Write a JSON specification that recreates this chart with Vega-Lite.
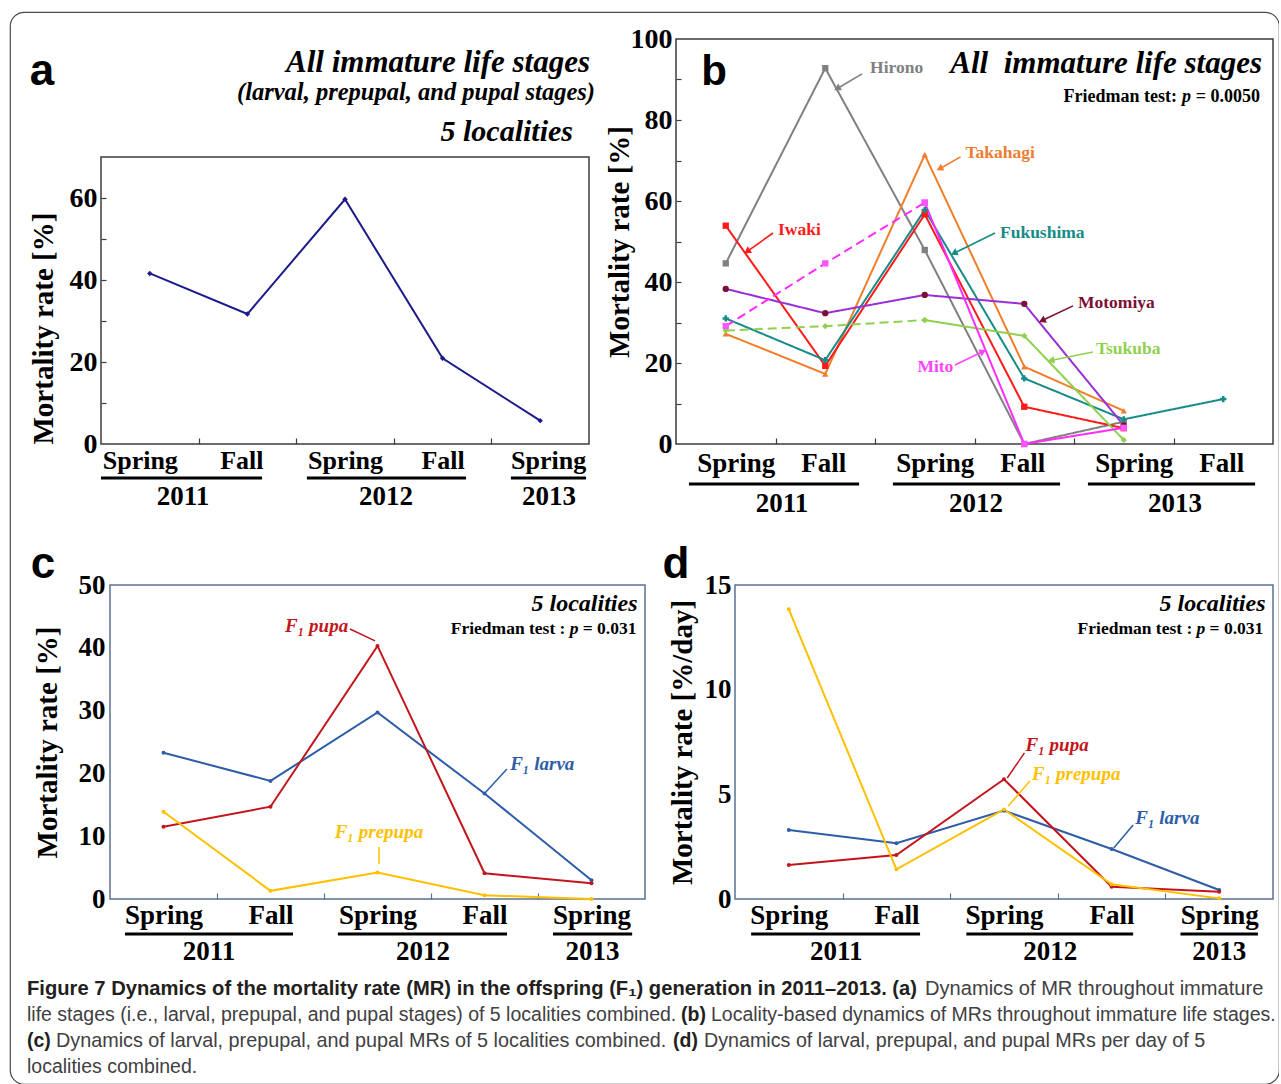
{
"$schema": "https://vega.github.io/schema/vega-lite/v6.json",
"background": "white",
"width": 1269,
"height": 1072,
"autosize": {"type": "none"},
"padding": {"left": 10, "top": 12, "right": 0, "bottom": 0},
"config": {
  "view": {"stroke": "#4a4a4a", "strokeWidth": 1.2, "cornerRadius": 14},
  "axis": {"grid": false, "domain": false, "labelFont": "Liberation Serif", "labelFontWeight": "bold", "labelColor": "#000000", "titleFont": "Liberation Serif", "titleFontWeight": "bold", "titleColor": "#000000", "tickColor": "#3d3d3d", "labelFlush": false, "labelOverlap": false},
  "text": {"font": "Liberation Serif", "fontWeight": "bold", "color": "#000000"}
},
"datasets": {
  "a": [
    {"period": "Spring 2011", "idx": 0, "mr": 41.6},
    {"period": "Fall 2011", "idx": 1, "mr": 31.7},
    {"period": "Spring 2012", "idx": 2, "mr": 59.7},
    {"period": "Fall 2012", "idx": 3, "mr": 20.9},
    {"period": "Spring 2013", "idx": 4, "mr": 5.7}
  ],
  "yearsA": [
    {"year": "2011", "from": -0.5, "to": 1.15, "at": 0.34},
    {"year": "2012", "from": 1.61, "to": 3.24, "at": 2.42},
    {"year": "2013", "from": 3.70, "to": 4.47, "at": 4.09}
  ],
  "b": [
    {"locality": "Hirono", "idx": 0, "mr": 44.6, "seg": "solid"},
    {"locality": "Hirono", "idx": 1, "mr": 92.8, "seg": "solid"},
    {"locality": "Hirono", "idx": 2, "mr": 47.9, "seg": "solid"},
    {"locality": "Hirono", "idx": 3, "mr": 0, "seg": "solid"},
    {"locality": "Hirono", "idx": 4, "mr": 5.5, "seg": "solid"},
    {"locality": "Takahagi", "idx": 0, "mr": 27.2, "seg": "solid"},
    {"locality": "Takahagi", "idx": 1, "mr": 17.3, "seg": "solid"},
    {"locality": "Takahagi", "idx": 2, "mr": 71.4, "seg": "solid"},
    {"locality": "Takahagi", "idx": 3, "mr": 19.1, "seg": "solid"},
    {"locality": "Takahagi", "idx": 4, "mr": 8.2, "seg": "solid"},
    {"locality": "Iwaki", "idx": 0, "mr": 53.9, "seg": "solid"},
    {"locality": "Iwaki", "idx": 1, "mr": 19.3, "seg": "solid"},
    {"locality": "Iwaki", "idx": 2, "mr": 56.7, "seg": "solid"},
    {"locality": "Iwaki", "idx": 3, "mr": 9.2, "seg": "solid"},
    {"locality": "Iwaki", "idx": 4, "mr": 3.9, "seg": "solid"},
    {"locality": "Fukushima", "idx": 0, "mr": 31.0, "seg": "solid"},
    {"locality": "Fukushima", "idx": 1, "mr": 20.7, "seg": "solid"},
    {"locality": "Fukushima", "idx": 2, "mr": 57.8, "seg": "solid"},
    {"locality": "Fukushima", "idx": 3, "mr": 16.2, "seg": "solid"},
    {"locality": "Fukushima", "idx": 4, "mr": 6.1, "seg": "solid"},
    {"locality": "Fukushima", "idx": 5, "mr": 11.1, "seg": "solid"},
    {"locality": "Motomiya", "idx": 0, "mr": 38.3, "seg": "solid"},
    {"locality": "Motomiya", "idx": 1, "mr": 32.3, "seg": "solid"},
    {"locality": "Motomiya", "idx": 2, "mr": 36.8, "seg": "solid"},
    {"locality": "Motomiya", "idx": 3, "mr": 34.6, "seg": "solid"},
    {"locality": "Motomiya", "idx": 4, "mr": 4.6, "seg": "solid"},
    {"locality": "Tsukuba", "idx": 0, "mr": 28.0, "seg": "dashed"},
    {"locality": "Tsukuba", "idx": 1, "mr": 29.1, "seg": "dashed"},
    {"locality": "Tsukuba", "idx": 2, "mr": 30.6, "seg": "dashed"},
    {"locality": "Tsukuba", "idx": 2, "mr": 30.6, "seg": "solid"},
    {"locality": "Tsukuba", "idx": 3, "mr": 26.7, "seg": "solid"},
    {"locality": "Tsukuba", "idx": 4, "mr": 1.0, "seg": "solid"},
    {"locality": "Mito", "idx": 0, "mr": 29.1, "seg": "dashed"},
    {"locality": "Mito", "idx": 1, "mr": 44.6, "seg": "dashed"},
    {"locality": "Mito", "idx": 2, "mr": 59.6, "seg": "dashed"},
    {"locality": "Mito", "idx": 2, "mr": 59.6, "seg": "solid"},
    {"locality": "Mito", "idx": 3, "mr": 0, "seg": "solid"},
    {"locality": "Mito", "idx": 4, "mr": 4.0, "seg": "solid"}
  ],
  "yearsB": [
    {"year": "2011", "from": -0.37, "to": 1.34, "at": 0.565},
    {"year": "2012", "from": 1.68, "to": 3.36, "at": 2.515},
    {"year": "2013", "from": 3.64, "to": 5.32, "at": 4.515}
  ],
  "notesB": [
    {"name": "Hirono", "lx": 1.45, "ly": 92.8, "tx": 1.37, "ty": 91.4, "hx": 1.13, "hy": 87.9},
    {"name": "Takahagi", "lx": 2.41, "ly": 71.9, "tx": 2.36, "ty": 70.9, "hx": 2.16, "hy": 68.1},
    {"name": "Iwaki", "lx": 0.525, "ly": 52.8, "tx": 0.475, "ty": 52.1, "hx": 0.224, "hy": 47.7},
    {"name": "Fukushima", "lx": 2.756, "ly": 52.1, "tx": 2.706, "ty": 52.1, "hx": 2.304, "hy": 47.2},
    {"name": "Motomiya", "lx": 3.54, "ly": 34.8, "tx": 3.49, "ty": 34.1, "hx": 3.19, "hy": 30.6},
    {"name": "Tsukuba", "lx": 3.72, "ly": 23.5, "tx": 3.69, "ty": 22.7, "hx": 3.28, "hy": 20.7},
    {"name": "Mito", "lx": 1.926, "ly": 19.0, "tx": 2.304, "ty": 19.5, "hx": 2.575, "hy": 22.7}
  ],
  "c": [
    {"stage": "F₁ larva", "idx": 0, "mr": 23.3},
    {"stage": "F₁ larva", "idx": 1, "mr": 18.8},
    {"stage": "F₁ larva", "idx": 2, "mr": 29.7},
    {"stage": "F₁ larva", "idx": 3, "mr": 16.8},
    {"stage": "F₁ larva", "idx": 4, "mr": 3.0},
    {"stage": "F₁ pupa", "idx": 0, "mr": 11.5},
    {"stage": "F₁ pupa", "idx": 1, "mr": 14.7},
    {"stage": "F₁ pupa", "idx": 2, "mr": 40.3},
    {"stage": "F₁ pupa", "idx": 3, "mr": 4.1},
    {"stage": "F₁ pupa", "idx": 4, "mr": 2.5},
    {"stage": "F₁ prepupa", "idx": 0, "mr": 13.9},
    {"stage": "F₁ prepupa", "idx": 1, "mr": 1.3},
    {"stage": "F₁ prepupa", "idx": 2, "mr": 4.2},
    {"stage": "F₁ prepupa", "idx": 3, "mr": 0.6},
    {"stage": "F₁ prepupa", "idx": 4, "mr": 0.0}
  ],
  "yearsC": [
    {"year": "2011", "from": -0.36, "to": 1.21, "at": 0.425},
    {"year": "2012", "from": 1.63, "to": 3.21, "at": 2.425},
    {"year": "2013", "from": 3.64, "to": 4.38, "at": 4.01}
  ],
  "notesC": [
    {"stage": "F₁ pupa", "lx": 1.136, "ly": 43.5, "tx": 1.743, "ty": 43.0, "hx": 1.977, "hy": 41.1},
    {"stage": "F₁ larva", "lx": 3.24, "ly": 21.5, "tx": 3.21, "ty": 20.7, "hx": 3.01, "hy": 17.0},
    {"stage": "F₁ prepupa", "lx": 1.60, "ly": 10.7, "tx": 2.014, "ty": 8.3, "hx": 2.014, "hy": 5.6}
  ],
  "d": [
    {"stage": "F₁ larva", "idx": 0, "mr": 3.30},
    {"stage": "F₁ larva", "idx": 1, "mr": 2.66},
    {"stage": "F₁ larva", "idx": 2, "mr": 4.22},
    {"stage": "F₁ larva", "idx": 3, "mr": 2.39},
    {"stage": "F₁ larva", "idx": 4, "mr": 0.43},
    {"stage": "F₁ pupa", "idx": 0, "mr": 1.62},
    {"stage": "F₁ pupa", "idx": 1, "mr": 2.10},
    {"stage": "F₁ pupa", "idx": 2, "mr": 5.72},
    {"stage": "F₁ pupa", "idx": 3, "mr": 0.59},
    {"stage": "F₁ pupa", "idx": 4, "mr": 0.35},
    {"stage": "F₁ prepupa", "idx": 0, "mr": 13.84},
    {"stage": "F₁ prepupa", "idx": 1, "mr": 1.42},
    {"stage": "F₁ prepupa", "idx": 2, "mr": 4.28},
    {"stage": "F₁ prepupa", "idx": 3, "mr": 0.70},
    {"stage": "F₁ prepupa", "idx": 4, "mr": 0.03}
  ],
  "yearsD": [
    {"year": "2011", "from": -0.35, "to": 1.22, "at": 0.44},
    {"year": "2012", "from": 1.65, "to": 3.20, "at": 2.43},
    {"year": "2013", "from": 3.64, "to": 4.36, "at": 4.0}
  ],
  "notesD": [
    {"stage": "F₁ pupa", "lx": 2.20, "ly": 7.36, "tx": 2.19, "ty": 6.98, "hx": 2.03, "hy": 5.78},
    {"stage": "F₁ prepupa", "lx": 2.26, "ly": 5.97, "tx": 2.24, "ty": 5.64, "hx": 2.04, "hy": 4.44},
    {"stage": "F₁ larva", "lx": 3.22, "ly": 3.87, "tx": 3.20, "ty": 3.54, "hx": 3.02, "hy": 2.44}
  ],
  "caption": [
    {"line": 1, "piece": "b0", "text": "Figure 7 Dynamics of the mortality rate (MR) in the offspring (F₁) generation in 2011–2013. (a)"},
    {"line": 1, "piece": "r1", "text": "Dynamics of MR throughout immature"},
    {"line": 2, "piece": "r0", "text": "life stages (i.e., larval, prepupal, and pupal stages) of 5 localities combined."},
    {"line": 2, "piece": "b2", "text": "(b)"},
    {"line": 2, "piece": "r2", "text": "Locality-based dynamics of MRs throughout immature life stages."},
    {"line": 3, "piece": "b3c", "text": "(c)"},
    {"line": 3, "piece": "r3", "text": "Dynamics of larval, prepupal, and pupal MRs of 5 localities combined."},
    {"line": 3, "piece": "b3", "text": "(d)"},
    {"line": 3, "piece": "r4", "text": "Dynamics of larval, prepupal, and pupal MRs per day of 5"},
    {"line": 4, "piece": "r0", "text": "localities combined."}
  ]
},
"resolve": {
  "scale": {"x": "independent", "y": "independent", "color": "independent", "stroke": "independent", "fill": "independent", "shape": "independent", "strokeDash": "independent", "angle": "independent"},
  "axis": {"x": "independent", "y": "independent"}
},
"layer": [
 {
  "resolve": {"axis": {"x": "independent", "y": "independent"}},
  "layer": [
   {"data": {"values": [{}]}, "mark": {"type": "rect", "filled": false, "color": "#3d3d3d", "strokeWidth": 1.5},
    "encoding": {
     "x": {"datum": -0.5, "type": "quantitative", "scale": {"domain": [-0.5, 4.5], "range": [91, 579], "nice": false, "zero": false}, "axis": null},
     "x2": {"datum": 4.5},
     "y": {"datum": 0, "type": "quantitative", "scale": {"domain": [0, 70], "range": [432, 145], "nice": false, "zero": false}, "axis": {"orient": "left", "offset": -91, "values": [0, 20, 40, 60], "ticks": false, "labelFontSize": 28, "labelPadding": 4, "title": "Mortality rate [%]", "titleFontSize": 29, "titleAnchor": "start", "titlePadding": 11}},
     "y2": {"datum": 70}
    }},
   {"data": {"name": "a"}, "mark": {"type": "line", "color": "#1B1B8A", "strokeWidth": 2},
    "encoding": {
     "x": {"field": "idx", "type": "quantitative", "scale": {"domain": [-0.5, 4.5], "range": [91, 579], "nice": false, "zero": false}, "axis": {"orient": "bottom", "offset": -640, "values": [0.5, 1.5, 2.5, 3.5], "labels": false, "tickSize": -6, "tickWidth": 1.2, "title": null}},
     "y": {"field": "mr", "type": "quantitative", "scale": {"domain": [0, 70], "range": [432, 145], "nice": false, "zero": false}, "axis": {"orient": "left", "offset": -91, "values": [10, 20, 30, 40, 50, 60], "labels": false, "tickSize": -5, "tickWidth": 1.2, "title": null}}
    }},
   {"data": {"name": "a"}, "mark": {"type": "point", "shape": "diamond", "filled": true, "opacity": 1, "size": 30, "color": "#1B1B8A"},
    "encoding": {
     "x": {"field": "idx", "type": "quantitative", "scale": {"domain": [-0.5, 4.5], "range": [91, 579], "nice": false, "zero": false}, "axis": null},
     "y": {"field": "mr", "type": "quantitative", "scale": {"domain": [0, 70], "range": [432, 145], "nice": false, "zero": false}, "axis": null}
    }},
   {"data": {"name": "yearsA"}, "mark": {"type": "rule", "strokeWidth": 3, "color": "#000000", "yOffset": 34},
    "encoding": {
     "x": {"field": "from", "type": "quantitative", "scale": {"domain": [-0.5, 4.5], "range": [91, 579], "nice": false, "zero": false}, "axis": {"orient": "bottom", "offset": -640, "values": [0, 1, 2, 3, 4], "labelExpr": "datum.value === 1 || datum.value === 3 ? 'Fall' : 'Spring'", "ticks": false, "labelFontSize": 26, "labelPadding": 3, "labelOffset": {"condition": [{"test": "datum.value === 0", "value": -10}, {"test": "datum.value === 1", "value": -6}, {"test": "datum.value === 4", "value": 8}], "value": 0}, "title": null}},
     "x2": {"field": "to"},
     "y": {"datum": 0, "type": "quantitative", "scale": {"domain": [0, 70], "range": [432, 145], "nice": false, "zero": false}, "axis": null}
    }},
   {"data": {"name": "yearsA"}, "mark": {"type": "text", "fontSize": 27, "fontWeight": "bold", "dy": 61, "baseline": "alphabetic"},
    "encoding": {
     "x": {"field": "at", "type": "quantitative", "scale": {"domain": [-0.5, 4.5], "range": [91, 579], "nice": false, "zero": false}, "axis": null},
     "y": {"datum": 0, "type": "quantitative", "scale": {"domain": [0, 70], "range": [432, 145], "nice": false, "zero": false}, "axis": null},
     "text": {"field": "year"}
    }},
   {"data": {"values": [{"t": "All immature life stages"}]}, "mark": {"type": "text", "fontSize": 31, "fontWeight": "bold", "fontStyle": "italic", "align": "right", "baseline": "alphabetic", "dx": 1},
    "encoding": {
     "x": {"datum": 4.5, "type": "quantitative", "scale": {"domain": [-0.5, 4.5], "range": [91, 579], "nice": false, "zero": false}, "axis": null},
     "y": {"datum": 90.7, "type": "quantitative", "scale": {"domain": [0, 70], "range": [432, 145], "nice": false, "zero": false}, "axis": null},
     "text": {"field": "t"}
    }},
   {"data": {"values": [{"t": "(larval, prepupal, and pupal stages)"}]}, "mark": {"type": "text", "fontSize": 24.5, "fontWeight": "bold", "fontStyle": "italic", "align": "right", "baseline": "alphabetic", "dx": 6},
    "encoding": {
     "x": {"datum": 4.5, "type": "quantitative", "scale": {"domain": [-0.5, 4.5], "range": [91, 579], "nice": false, "zero": false}, "axis": null},
     "y": {"datum": 83.9, "type": "quantitative", "scale": {"domain": [0, 70], "range": [432, 145], "nice": false, "zero": false}, "axis": null},
     "text": {"field": "t"}
    }},
   {"data": {"values": [{"t": "5 localities"}]}, "mark": {"type": "text", "fontSize": 30, "fontWeight": "bold", "fontStyle": "italic", "align": "right", "baseline": "alphabetic", "dx": -16},
    "encoding": {
     "x": {"datum": 4.5, "type": "quantitative", "scale": {"domain": [-0.5, 4.5], "range": [91, 579], "nice": false, "zero": false}, "axis": null},
     "y": {"datum": 73.9, "type": "quantitative", "scale": {"domain": [0, 70], "range": [432, 145], "nice": false, "zero": false}, "axis": null},
     "text": {"field": "t"}
    }},
   {"data": {"values": [{"t": "a"}]}, "mark": {"type": "text", "font": "Liberation Sans", "fontSize": 44, "fontWeight": "bold", "align": "center", "baseline": "alphabetic", "dx": -59},
    "encoding": {
     "x": {"datum": -0.5, "type": "quantitative", "scale": {"domain": [-0.5, 4.5], "range": [91, 579], "nice": false, "zero": false}, "axis": null},
     "y": {"datum": 87.6, "type": "quantitative", "scale": {"domain": [0, 70], "range": [432, 145], "nice": false, "zero": false}, "axis": null},
     "text": {"field": "t"}
    }}
  ]
 },
 {
  "resolve": {"axis": {"x": "independent", "y": "independent"}},
  "layer": [
   {"data": {"values": [{}]}, "mark": {"type": "rect", "filled": false, "color": "#3d3d3d", "strokeWidth": 1.5},
    "encoding": {
     "x": {"datum": -0.5, "type": "quantitative", "scale": {"domain": [-0.5, 5.5], "range": [666, 1263], "nice": false, "zero": false}, "axis": null},
     "x2": {"datum": 5.5},
     "y": {"datum": 0, "type": "quantitative", "scale": {"domain": [0, 100], "range": [432, 27], "nice": false, "zero": false}, "axis": {"orient": "left", "offset": -666, "values": [0, 20, 40, 60, 80, 100], "ticks": false, "labelFontSize": 28, "labelPadding": 4, "title": "Mortality rate [%]", "titleFontSize": 29, "titlePadding": -4}},
     "y2": {"datum": 100}
    }},
   {"data": {"name": "b"}, "mark": {"type": "line", "strokeWidth": 2},
    "encoding": {
     "x": {"field": "idx", "type": "quantitative", "scale": {"domain": [-0.5, 5.5], "range": [666, 1263], "nice": false, "zero": false}, "axis": {"orient": "bottom", "offset": -640, "values": [0.5, 1.5, 2.5, 3.5, 4.5], "labels": false, "tickSize": -6, "tickWidth": 1.2, "title": null}},
     "y": {"field": "mr", "type": "quantitative", "scale": {"domain": [0, 100], "range": [432, 27], "nice": false, "zero": false}, "axis": {"orient": "left", "offset": -666, "values": [10, 20, 30, 40, 50, 60, 70, 80, 90], "labels": false, "tickSize": -5, "tickWidth": 1.2, "title": null}},
     "stroke": {"field": "locality", "type": "nominal", "scale": {"domain": ["Hirono", "Takahagi", "Iwaki", "Fukushima", "Motomiya", "Tsukuba", "Mito"], "range": ["#808080", "#F07F2C", "#FF1A1A", "#168B88", "#9A2FD6", "#8FD14F", "#FF2BFF"]}, "legend": null},
     "strokeDash": {"field": "seg", "type": "nominal", "scale": {"domain": ["solid", "dashed"], "range": [[1, 0], [9, 5]]}, "legend": null}
    }},
   {"data": {"name": "b"}, "mark": {"type": "point", "filled": true, "opacity": 1, "size": 40},
    "encoding": {
     "x": {"field": "idx", "type": "quantitative", "scale": {"domain": [-0.5, 5.5], "range": [666, 1263], "nice": false, "zero": false}, "axis": null},
     "y": {"field": "mr", "type": "quantitative", "scale": {"domain": [0, 100], "range": [432, 27], "nice": false, "zero": false}, "axis": null},
     "fill": {"field": "locality", "type": "nominal", "scale": {"domain": ["Hirono", "Takahagi", "Iwaki", "Fukushima", "Motomiya", "Tsukuba", "Mito"], "range": ["#808080", "#F07F2C", "#FF1A1A", "#168B88", "#7A1036", "#8FD14F", "#FF55FF"]}, "legend": null},
     "shape": {"field": "locality", "type": "nominal", "scale": {"domain": ["Hirono", "Takahagi", "Iwaki", "Fukushima", "Motomiya", "Tsukuba", "Mito"], "range": ["square", "triangle-up", "square", "cross", "circle", "diamond", "square"]}, "legend": null}
    }},
   {"data": {"name": "notesB"}, "mark": {"type": "rule", "strokeWidth": 1.6},
    "encoding": {
     "x": {"field": "tx", "type": "quantitative", "scale": {"domain": [-0.5, 5.5], "range": [666, 1263], "nice": false, "zero": false}, "axis": null},
     "y": {"field": "ty", "type": "quantitative", "scale": {"domain": [0, 100], "range": [432, 27], "nice": false, "zero": false}, "axis": null},
     "x2": {"field": "hx"},
     "y2": {"field": "hy"},
     "color": {"field": "name", "type": "nominal", "scale": {"domain": ["Hirono", "Takahagi", "Iwaki", "Fukushima", "Motomiya", "Tsukuba", "Mito"], "range": ["#808080", "#ED7D31", "#FF1A1A", "#168B88", "#7A1036", "#8FD14F", "#FF44FF"]}, "legend": null}
    }},
   {"data": {"name": "notesB"}, "mark": {"type": "point", "shape": "triangle", "filled": true, "opacity": 1, "size": 60},
    "encoding": {
     "x": {"field": "hx", "type": "quantitative", "scale": {"domain": [-0.5, 5.5], "range": [666, 1263], "nice": false, "zero": false}, "axis": null},
     "y": {"field": "hy", "type": "quantitative", "scale": {"domain": [0, 100], "range": [432, 27], "nice": false, "zero": false}, "axis": null},
     "color": {"field": "name", "type": "nominal", "scale": {"domain": ["Hirono", "Takahagi", "Iwaki", "Fukushima", "Motomiya", "Tsukuba", "Mito"], "range": ["#808080", "#ED7D31", "#FF1A1A", "#168B88", "#7A1036", "#8FD14F", "#FF44FF"]}, "legend": null},
     "angle": {"field": "name", "type": "nominal", "scale": {"type": "ordinal", "domain": ["Hirono", "Takahagi", "Iwaki", "Fukushima", "Motomiya", "Tsukuba", "Mito"], "range": [240, 241, 234, 243, 245, 259, 64]}, "legend": null}
    }},
   {"data": {"name": "notesB"}, "mark": {"type": "text", "fontSize": 17.5, "fontWeight": "bold", "align": "left", "baseline": "middle"},
    "encoding": {
     "x": {"field": "lx", "type": "quantitative", "scale": {"domain": [-0.5, 5.5], "range": [666, 1263], "nice": false, "zero": false}, "axis": null},
     "y": {"field": "ly", "type": "quantitative", "scale": {"domain": [0, 100], "range": [432, 27], "nice": false, "zero": false}, "axis": null},
     "text": {"field": "name"},
     "color": {"field": "name", "type": "nominal", "scale": {"domain": ["Hirono", "Takahagi", "Iwaki", "Fukushima", "Motomiya", "Tsukuba", "Mito"], "range": ["#808080", "#ED7D31", "#FF1A1A", "#168B88", "#7A1036", "#8FD14F", "#FF44FF"]}, "legend": null}
    }},
   {"data": {"name": "yearsB"}, "mark": {"type": "rule", "strokeWidth": 3, "color": "#000000", "yOffset": 40},
    "encoding": {
     "x": {"field": "from", "type": "quantitative", "scale": {"domain": [-0.5, 5.5], "range": [666, 1263], "nice": false, "zero": false}, "axis": {"orient": "bottom", "offset": -640, "values": [0, 1, 2, 3, 4, 5], "labelExpr": "datum.value === 1 || datum.value === 3 || datum.value === 5 ? 'Fall' : 'Spring'", "ticks": false, "labelFontSize": 27, "labelPadding": 6, "labelOffset": {"condition": {"test": "datum.value === 1 || datum.value === 3 || datum.value === 5", "value": -2}, "value": 10}, "title": null}},
     "x2": {"field": "to"},
     "y": {"datum": 0, "type": "quantitative", "scale": {"domain": [0, 100], "range": [432, 27], "nice": false, "zero": false}, "axis": null}
    }},
   {"data": {"name": "yearsB"}, "mark": {"type": "text", "fontSize": 27, "fontWeight": "bold", "dy": 68, "baseline": "alphabetic"},
    "encoding": {
     "x": {"field": "at", "type": "quantitative", "scale": {"domain": [-0.5, 5.5], "range": [666, 1263], "nice": false, "zero": false}, "axis": null},
     "y": {"datum": 0, "type": "quantitative", "scale": {"domain": [0, 100], "range": [432, 27], "nice": false, "zero": false}, "axis": null},
     "text": {"field": "year"}
    }},
   {"data": {"values": [{"t": "b"}]}, "mark": {"type": "text", "font": "Liberation Sans", "fontSize": 42, "fontWeight": "bold", "align": "center", "baseline": "alphabetic"},
    "encoding": {
     "x": {"datum": -0.118, "type": "quantitative", "scale": {"domain": [-0.5, 5.5], "range": [666, 1263], "nice": false, "zero": false}, "axis": null},
     "y": {"datum": 88.6, "type": "quantitative", "scale": {"domain": [0, 100], "range": [432, 27], "nice": false, "zero": false}, "axis": null},
     "text": {"field": "t"}
    }},
   {"data": {"values": [{"t": "All\u00a0 immature life stages"}]}, "mark": {"type": "text", "fontSize": 31, "fontWeight": "bold", "fontStyle": "italic", "align": "right", "baseline": "alphabetic"},
    "encoding": {
     "x": {"datum": 5.39, "type": "quantitative", "scale": {"domain": [-0.5, 5.5], "range": [666, 1263], "nice": false, "zero": false}, "axis": null},
     "y": {"datum": 91.6, "type": "quantitative", "scale": {"domain": [0, 100], "range": [432, 27], "nice": false, "zero": false}, "axis": null},
     "text": {"field": "t"}
    }},
   {"data": {"values": [{"t": "= 0.0050"}]}, "mark": {"type": "text", "fontSize": 18, "fontWeight": "bold", "align": "right", "baseline": "alphabetic"},
    "encoding": {
     "x": {"datum": 5.37, "type": "quantitative", "scale": {"domain": [-0.5, 5.5], "range": [666, 1263], "nice": false, "zero": false}, "axis": null},
     "y": {"datum": 84.4, "type": "quantitative", "scale": {"domain": [0, 100], "range": [432, 27], "nice": false, "zero": false}, "axis": null},
     "text": {"field": "t"}
    }},
   {"data": {"values": [{"t": "p"}]}, "mark": {"type": "text", "fontSize": 18, "fontWeight": "bold", "fontStyle": "italic", "align": "right", "baseline": "alphabetic", "dx": -69},
    "encoding": {
     "x": {"datum": 5.37, "type": "quantitative", "scale": {"domain": [-0.5, 5.5], "range": [666, 1263], "nice": false, "zero": false}, "axis": null},
     "y": {"datum": 84.4, "type": "quantitative", "scale": {"domain": [0, 100], "range": [432, 27], "nice": false, "zero": false}, "axis": null},
     "text": {"field": "t"}
    }},
   {"data": {"values": [{"t": "Friedman test:"}]}, "mark": {"type": "text", "fontSize": 18, "fontWeight": "bold", "align": "right", "baseline": "alphabetic", "dx": -83},
    "encoding": {
     "x": {"datum": 5.37, "type": "quantitative", "scale": {"domain": [-0.5, 5.5], "range": [666, 1263], "nice": false, "zero": false}, "axis": null},
     "y": {"datum": 84.4, "type": "quantitative", "scale": {"domain": [0, 100], "range": [432, 27], "nice": false, "zero": false}, "axis": null},
     "text": {"field": "t"}
    }}
  ]
 },
 {
  "resolve": {"axis": {"x": "independent", "y": "independent"}},
  "layer": [
   {"data": {"values": [{}]}, "mark": {"type": "rect", "filled": false, "color": "#5A7090", "strokeWidth": 1.5},
    "encoding": {
     "x": {"datum": -0.5, "type": "quantitative", "scale": {"domain": [-0.5, 4.5], "range": [100, 635], "nice": false, "zero": false}, "axis": null},
     "x2": {"datum": 4.5},
     "y": {"datum": 0, "type": "quantitative", "scale": {"domain": [0, 50], "range": [887, 573], "nice": false, "zero": false}, "axis": {"orient": "left", "offset": -100, "values": [0, 10, 20, 30, 40, 50], "ticks": false, "labelFontSize": 27, "labelPadding": 5, "title": "Mortality rate [%]", "titleFontSize": 29, "titlePadding": 16}},
     "y2": {"datum": 50}
    }},
   {"data": {"name": "c"}, "mark": {"type": "line", "strokeWidth": 2},
    "encoding": {
     "x": {"field": "idx", "type": "quantitative", "scale": {"domain": [-0.5, 4.5], "range": [100, 635], "nice": false, "zero": false}, "axis": {"orient": "bottom", "offset": -185, "values": [0.5, 1.5, 2.5, 3.5], "labels": false, "tickSize": -6, "tickWidth": 1.2, "tickColor": "#5A7090", "title": null}},
     "y": {"field": "mr", "type": "quantitative", "scale": {"domain": [0, 50], "range": [887, 573], "nice": false, "zero": false}, "axis": null},
     "color": {"field": "stage", "type": "nominal", "scale": {"domain": ["F₁ larva", "F₁ pupa", "F₁ prepupa"], "range": ["#2D5DA8", "#C3161C", "#FFC000"]}, "legend": null}
    }},
   {"data": {"name": "c"}, "mark": {"type": "circle", "size": 16, "opacity": 1},
    "encoding": {
     "x": {"field": "idx", "type": "quantitative", "scale": {"domain": [-0.5, 4.5], "range": [100, 635], "nice": false, "zero": false}, "axis": null},
     "y": {"field": "mr", "type": "quantitative", "scale": {"domain": [0, 50], "range": [887, 573], "nice": false, "zero": false}, "axis": null},
     "color": {"field": "stage", "type": "nominal", "scale": {"domain": ["F₁ larva", "F₁ pupa", "F₁ prepupa"], "range": ["#2D5DA8", "#C3161C", "#FFC000"]}, "legend": null}
    }},
   {"data": {"name": "notesC"}, "mark": {"type": "rule", "strokeWidth": 1.5},
    "encoding": {
     "x": {"field": "tx", "type": "quantitative", "scale": {"domain": [-0.5, 4.5], "range": [100, 635], "nice": false, "zero": false}, "axis": null},
     "y": {"field": "ty", "type": "quantitative", "scale": {"domain": [0, 50], "range": [887, 573], "nice": false, "zero": false}, "axis": null},
     "x2": {"field": "hx"},
     "y2": {"field": "hy"},
     "color": {"field": "stage", "type": "nominal", "scale": {"domain": ["F₁ larva", "F₁ pupa", "F₁ prepupa"], "range": ["#2D5DA8", "#C3161C", "#FFC000"]}, "legend": null}
    }},
   {"data": {"name": "notesC"}, "mark": {"type": "text", "fontSize": 19, "fontWeight": "bold", "fontStyle": "italic", "align": "left", "baseline": "middle"},
    "encoding": {
     "x": {"field": "lx", "type": "quantitative", "scale": {"domain": [-0.5, 4.5], "range": [100, 635], "nice": false, "zero": false}, "axis": null},
     "y": {"field": "ly", "type": "quantitative", "scale": {"domain": [0, 50], "range": [887, 573], "nice": false, "zero": false}, "axis": null},
     "text": {"field": "stage"},
     "color": {"field": "stage", "type": "nominal", "scale": {"domain": ["F₁ larva", "F₁ pupa", "F₁ prepupa"], "range": ["#2D5DA8", "#C3161C", "#FFC000"]}, "legend": null}
    }},
   {"data": {"name": "yearsC"}, "mark": {"type": "rule", "strokeWidth": 3, "color": "#000000", "yOffset": 35},
    "encoding": {
     "x": {"field": "from", "type": "quantitative", "scale": {"domain": [-0.5, 4.5], "range": [100, 635], "nice": false, "zero": false}, "axis": {"orient": "bottom", "offset": -185, "values": [0, 1, 2, 3, 4], "labelExpr": "datum.value === 1 || datum.value === 3 ? 'Fall' : 'Spring'", "ticks": false, "labelFontSize": 27, "labelPadding": 3, "title": null}},
     "x2": {"field": "to"},
     "y": {"datum": 0, "type": "quantitative", "scale": {"domain": [0, 50], "range": [887, 573], "nice": false, "zero": false}, "axis": null}
    }},
   {"data": {"name": "yearsC"}, "mark": {"type": "text", "fontSize": 27, "fontWeight": "bold", "dy": 61, "baseline": "alphabetic"},
    "encoding": {
     "x": {"field": "at", "type": "quantitative", "scale": {"domain": [-0.5, 4.5], "range": [100, 635], "nice": false, "zero": false}, "axis": null},
     "y": {"datum": 0, "type": "quantitative", "scale": {"domain": [0, 50], "range": [887, 573], "nice": false, "zero": false}, "axis": null},
     "text": {"field": "year"}
    }},
   {"data": {"values": [{"t": "c"}]}, "mark": {"type": "text", "font": "Liberation Sans", "fontSize": 44, "fontWeight": "bold", "align": "center", "baseline": "alphabetic", "dx": -67, "dy": -7},
    "encoding": {
     "x": {"datum": -0.5, "type": "quantitative", "scale": {"domain": [-0.5, 4.5], "range": [100, 635], "nice": false, "zero": false}, "axis": null},
     "y": {"datum": 50, "type": "quantitative", "scale": {"domain": [0, 50], "range": [887, 573], "nice": false, "zero": false}, "axis": null},
     "text": {"field": "t"}
    }},
   {"data": {"values": [{"t": "5 localities"}]}, "mark": {"type": "text", "fontSize": 24, "fontWeight": "bold", "fontStyle": "italic", "align": "right", "baseline": "alphabetic"},
    "encoding": {
     "x": {"datum": 4.43, "type": "quantitative", "scale": {"domain": [-0.5, 4.5], "range": [100, 635], "nice": false, "zero": false}, "axis": null},
     "y": {"datum": 45.9, "type": "quantitative", "scale": {"domain": [0, 50], "range": [887, 573], "nice": false, "zero": false}, "axis": null},
     "text": {"field": "t"}
    }},
   {"data": {"values": [{"t": "= 0.031"}]}, "mark": {"type": "text", "fontSize": 17.5, "fontWeight": "bold", "align": "right", "baseline": "alphabetic"},
    "encoding": {
     "x": {"datum": 4.42, "type": "quantitative", "scale": {"domain": [-0.5, 4.5], "range": [100, 635], "nice": false, "zero": false}, "axis": null},
     "y": {"datum": 42.2, "type": "quantitative", "scale": {"domain": [0, 50], "range": [887, 573], "nice": false, "zero": false}, "axis": null},
     "text": {"field": "t"}
    }},
   {"data": {"values": [{"t": "p"}]}, "mark": {"type": "text", "fontSize": 17.5, "fontWeight": "bold", "fontStyle": "italic", "align": "right", "baseline": "alphabetic", "dx": -58},
    "encoding": {
     "x": {"datum": 4.42, "type": "quantitative", "scale": {"domain": [-0.5, 4.5], "range": [100, 635], "nice": false, "zero": false}, "axis": null},
     "y": {"datum": 42.2, "type": "quantitative", "scale": {"domain": [0, 50], "range": [887, 573], "nice": false, "zero": false}, "axis": null},
     "text": {"field": "t"}
    }},
   {"data": {"values": [{"t": "Friedman test :"}]}, "mark": {"type": "text", "fontSize": 17.5, "fontWeight": "bold", "align": "right", "baseline": "alphabetic", "dx": -71},
    "encoding": {
     "x": {"datum": 4.42, "type": "quantitative", "scale": {"domain": [-0.5, 4.5], "range": [100, 635], "nice": false, "zero": false}, "axis": null},
     "y": {"datum": 42.2, "type": "quantitative", "scale": {"domain": [0, 50], "range": [887, 573], "nice": false, "zero": false}, "axis": null},
     "text": {"field": "t"}
    }}
  ]
 },
 {
  "resolve": {"axis": {"x": "independent", "y": "independent"}},
  "layer": [
   {"data": {"values": [{}]}, "mark": {"type": "rect", "filled": false, "color": "#5A7090", "strokeWidth": 1.5},
    "encoding": {
     "x": {"datum": -0.5, "type": "quantitative", "scale": {"domain": [-0.5, 4.5], "range": [725, 1263], "nice": false, "zero": false}, "axis": null},
     "x2": {"datum": 4.5},
     "y": {"datum": 0, "type": "quantitative", "scale": {"domain": [0, 15], "range": [887, 573], "nice": false, "zero": false}, "axis": {"orient": "left", "offset": -725, "values": [0, 5, 10, 15], "ticks": false, "labelFontSize": 27, "labelPadding": 4, "title": "Mortality rate [%/day]", "titleFontSize": 29, "titlePadding": 7}},
     "y2": {"datum": 15}
    }},
   {"data": {"name": "d"}, "mark": {"type": "line", "strokeWidth": 2},
    "encoding": {
     "x": {"field": "idx", "type": "quantitative", "scale": {"domain": [-0.5, 4.5], "range": [725, 1263], "nice": false, "zero": false}, "axis": {"orient": "bottom", "offset": -185, "values": [0.5, 1.5, 2.5, 3.5], "labels": false, "tickSize": -6, "tickWidth": 1.2, "tickColor": "#5A7090", "title": null}},
     "y": {"field": "mr", "type": "quantitative", "scale": {"domain": [0, 15], "range": [887, 573], "nice": false, "zero": false}, "axis": null},
     "color": {"field": "stage", "type": "nominal", "scale": {"domain": ["F₁ larva", "F₁ pupa", "F₁ prepupa"], "range": ["#2D5DA8", "#C3161C", "#FFC000"]}, "legend": null}
    }},
   {"data": {"name": "d"}, "mark": {"type": "circle", "size": 16, "opacity": 1},
    "encoding": {
     "x": {"field": "idx", "type": "quantitative", "scale": {"domain": [-0.5, 4.5], "range": [725, 1263], "nice": false, "zero": false}, "axis": null},
     "y": {"field": "mr", "type": "quantitative", "scale": {"domain": [0, 15], "range": [887, 573], "nice": false, "zero": false}, "axis": null},
     "color": {"field": "stage", "type": "nominal", "scale": {"domain": ["F₁ larva", "F₁ pupa", "F₁ prepupa"], "range": ["#2D5DA8", "#C3161C", "#FFC000"]}, "legend": null}
    }},
   {"data": {"name": "notesD"}, "mark": {"type": "rule", "strokeWidth": 1.5},
    "encoding": {
     "x": {"field": "tx", "type": "quantitative", "scale": {"domain": [-0.5, 4.5], "range": [725, 1263], "nice": false, "zero": false}, "axis": null},
     "y": {"field": "ty", "type": "quantitative", "scale": {"domain": [0, 15], "range": [887, 573], "nice": false, "zero": false}, "axis": null},
     "x2": {"field": "hx"},
     "y2": {"field": "hy"},
     "color": {"field": "stage", "type": "nominal", "scale": {"domain": ["F₁ larva", "F₁ pupa", "F₁ prepupa"], "range": ["#2D5DA8", "#C3161C", "#FFC000"]}, "legend": null}
    }},
   {"data": {"name": "notesD"}, "mark": {"type": "text", "fontSize": 19, "fontWeight": "bold", "fontStyle": "italic", "align": "left", "baseline": "middle"},
    "encoding": {
     "x": {"field": "lx", "type": "quantitative", "scale": {"domain": [-0.5, 4.5], "range": [725, 1263], "nice": false, "zero": false}, "axis": null},
     "y": {"field": "ly", "type": "quantitative", "scale": {"domain": [0, 15], "range": [887, 573], "nice": false, "zero": false}, "axis": null},
     "text": {"field": "stage"},
     "color": {"field": "stage", "type": "nominal", "scale": {"domain": ["F₁ larva", "F₁ pupa", "F₁ prepupa"], "range": ["#2D5DA8", "#C3161C", "#FFC000"]}, "legend": null}
    }},
   {"data": {"name": "yearsD"}, "mark": {"type": "rule", "strokeWidth": 3, "color": "#000000", "yOffset": 35},
    "encoding": {
     "x": {"field": "from", "type": "quantitative", "scale": {"domain": [-0.5, 4.5], "range": [725, 1263], "nice": false, "zero": false}, "axis": {"orient": "bottom", "offset": -185, "values": [0, 1, 2, 3, 4], "labelExpr": "datum.value === 1 || datum.value === 3 ? 'Fall' : 'Spring'", "ticks": false, "labelFontSize": 27, "labelPadding": 3, "title": null}},
     "x2": {"field": "to"},
     "y": {"datum": 0, "type": "quantitative", "scale": {"domain": [0, 15], "range": [887, 573], "nice": false, "zero": false}, "axis": null}
    }},
   {"data": {"name": "yearsD"}, "mark": {"type": "text", "fontSize": 27, "fontWeight": "bold", "dy": 61, "baseline": "alphabetic"},
    "encoding": {
     "x": {"field": "at", "type": "quantitative", "scale": {"domain": [-0.5, 4.5], "range": [725, 1263], "nice": false, "zero": false}, "axis": null},
     "y": {"datum": 0, "type": "quantitative", "scale": {"domain": [0, 15], "range": [887, 573], "nice": false, "zero": false}, "axis": null},
     "text": {"field": "year"}
    }},
   {"data": {"values": [{"t": "d"}]}, "mark": {"type": "text", "font": "Liberation Sans", "fontSize": 44, "fontWeight": "bold", "align": "center", "baseline": "alphabetic", "dx": -59, "dy": -7},
    "encoding": {
     "x": {"datum": -0.5, "type": "quantitative", "scale": {"domain": [-0.5, 4.5], "range": [725, 1263], "nice": false, "zero": false}, "axis": null},
     "y": {"datum": 15, "type": "quantitative", "scale": {"domain": [0, 15], "range": [887, 573], "nice": false, "zero": false}, "axis": null},
     "text": {"field": "t"}
    }},
   {"data": {"values": [{"t": "5 localities"}]}, "mark": {"type": "text", "fontSize": 24, "fontWeight": "bold", "fontStyle": "italic", "align": "right", "baseline": "alphabetic"},
    "encoding": {
     "x": {"datum": 4.43, "type": "quantitative", "scale": {"domain": [-0.5, 4.5], "range": [725, 1263], "nice": false, "zero": false}, "axis": null},
     "y": {"datum": 13.76, "type": "quantitative", "scale": {"domain": [0, 15], "range": [887, 573], "nice": false, "zero": false}, "axis": null},
     "text": {"field": "t"}
    }},
   {"data": {"values": [{"t": "= 0.031"}]}, "mark": {"type": "text", "fontSize": 17.5, "fontWeight": "bold", "align": "right", "baseline": "alphabetic"},
    "encoding": {
     "x": {"datum": 4.41, "type": "quantitative", "scale": {"domain": [-0.5, 4.5], "range": [725, 1263], "nice": false, "zero": false}, "axis": null},
     "y": {"datum": 12.66, "type": "quantitative", "scale": {"domain": [0, 15], "range": [887, 573], "nice": false, "zero": false}, "axis": null},
     "text": {"field": "t"}
    }},
   {"data": {"values": [{"t": "p"}]}, "mark": {"type": "text", "fontSize": 17.5, "fontWeight": "bold", "fontStyle": "italic", "align": "right", "baseline": "alphabetic", "dx": -58},
    "encoding": {
     "x": {"datum": 4.41, "type": "quantitative", "scale": {"domain": [-0.5, 4.5], "range": [725, 1263], "nice": false, "zero": false}, "axis": null},
     "y": {"datum": 12.66, "type": "quantitative", "scale": {"domain": [0, 15], "range": [887, 573], "nice": false, "zero": false}, "axis": null},
     "text": {"field": "t"}
    }},
   {"data": {"values": [{"t": "Friedman test :"}]}, "mark": {"type": "text", "fontSize": 17.5, "fontWeight": "bold", "align": "right", "baseline": "alphabetic", "dx": -71},
    "encoding": {
     "x": {"datum": 4.41, "type": "quantitative", "scale": {"domain": [-0.5, 4.5], "range": [725, 1263], "nice": false, "zero": false}, "axis": null},
     "y": {"datum": 12.66, "type": "quantitative", "scale": {"domain": [0, 15], "range": [887, 573], "nice": false, "zero": false}, "axis": null},
     "text": {"field": "t"}
    }}
  ]
 },
 {
  "data": {"name": "caption"},
  "encoding": {
   "x": {"datum": 0, "type": "quantitative", "scale": {"domain": [0, 1], "range": [17, 1271]}, "axis": null},
   "y": {"field": "line", "type": "quantitative", "scale": {"domain": [1, 4], "range": [983, 1061], "zero": false, "nice": false}, "axis": null},
   "text": {"field": "text"}
  },
  "layer": [
   {"transform": [{"filter": "datum.piece === 'b0'"}], "mark": {"type": "text", "font": "Liberation Sans", "fontSize": 20.2, "fontWeight": "bold", "align": "left", "baseline": "alphabetic", "color": "#231F20"}},
   {"transform": [{"filter": "datum.piece === 'b3c'"}], "mark": {"type": "text", "font": "Liberation Sans", "fontSize": 19.5, "fontWeight": "bold", "align": "left", "baseline": "alphabetic", "color": "#231F20"}},
   {"transform": [{"filter": "datum.piece === 'r0'"}], "mark": {"type": "text", "font": "Liberation Sans", "fontSize": 19.5, "fontWeight": "normal", "align": "left", "baseline": "alphabetic", "color": "#414042"}},
   {"transform": [{"filter": "datum.piece === 'r1'"}], "mark": {"type": "text", "font": "Liberation Sans", "fontSize": 20.1, "fontWeight": "normal", "align": "left", "baseline": "alphabetic", "dx": 898, "color": "#414042"}},
   {"transform": [{"filter": "datum.piece === 'b2'"}], "mark": {"type": "text", "font": "Liberation Sans", "fontSize": 19.5, "fontWeight": "bold", "align": "left", "baseline": "alphabetic", "dx": 654, "color": "#231F20"}},
   {"transform": [{"filter": "datum.piece === 'r2'"}], "mark": {"type": "text", "font": "Liberation Sans", "fontSize": 19.5, "fontWeight": "normal", "align": "left", "baseline": "alphabetic", "dx": 684, "color": "#414042"}},
   {"transform": [{"filter": "datum.piece === 'r3'"}], "mark": {"type": "text", "font": "Liberation Sans", "fontSize": 19.8, "fontWeight": "normal", "align": "left", "baseline": "alphabetic", "dx": 29, "color": "#414042"}},
   {"transform": [{"filter": "datum.piece === 'b3'"}], "mark": {"type": "text", "font": "Liberation Sans", "fontSize": 19.5, "fontWeight": "bold", "align": "left", "baseline": "alphabetic", "dx": 646, "color": "#231F20"}},
   {"transform": [{"filter": "datum.piece === 'r4'"}], "mark": {"type": "text", "font": "Liberation Sans", "fontSize": 19.7, "fontWeight": "normal", "align": "left", "baseline": "alphabetic", "dx": 677, "color": "#414042"}}
  ]
 }
]
}
